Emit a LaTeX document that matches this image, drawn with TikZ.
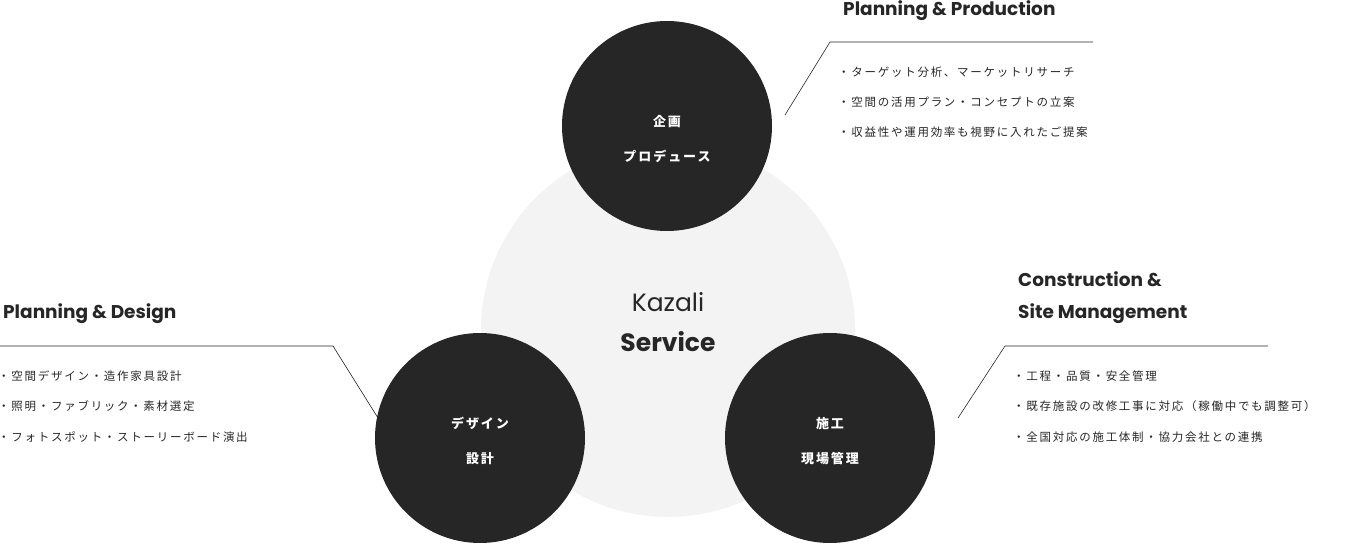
\documentclass[tikz,border=0pt]{standalone}
\usepackage{fontspec}
\setmainfont{Poppins}
\newfontfamily\jp[LetterSpace=15]{Noto Sans CJK JP}
\definecolor{bgc}{HTML}{F2F3F2}
\begin{document}
\begin{tikzpicture}[x=1pt,y=-1pt,
  big/.style={circle,fill=black!85,minimum size=210pt,inner sep=0pt},
  ttl/.style={anchor=base west,font=\fontsize{18.5}{20}\selectfont\bfseries,text=black!85,inner sep=0pt},
  itm/.style={anchor=base west,font=\jp\fontsize{11.5}{14}\selectfont,text=black!85,inner sep=0pt},
  lbl/.style={text=white,font=\jp\fontsize{13}{35}\selectfont\bfseries,align=center},
  ln/.style={draw=black!85,line width=0.6pt}]
\useasboundingbox (0,0) rectangle (1361,559);
\node[circle,fill=bgc,minimum size=374pt,inner sep=0pt] (bg) at (668,330) {};
\node[big] (top) at (667,126) {};
\node[big] (left) at (480,438) {};
\node[big] (right) at (830,438) {};
\node[lbl] at ([yshift=-13pt]top.center) {企画\\プロデュース};
\node[lbl] at ([yshift=-3pt]left.center) {デザイン\\設計};
\node[lbl] at ([yshift=-3pt]right.center) {施工\\現場管理};
\node[text=black!85,font=\fontsize{25}{40}\selectfont\bfseries,align=center] (logo) at (668,322) {{\mdseries Kazali}\\Service};
\coordinate (t1) at (785,115); \coordinate (t2) at (830,42); \coordinate (t3) at (1093,42);
\coordinate (l1) at (378,418); \coordinate (l2) at (333,346); \coordinate (l3) at (0,346);
\coordinate (r1) at (958,418); \coordinate (r2) at (1005,346); \coordinate (r3) at (1268,346);
\draw[ln] (t1)--(t2)--(t3);
\draw[ln] (l1)--(l2)--(l3);
\draw[ln] (r1)--(r2)--(r3);
\node[ttl] at (843,16) {Planning \& Production};
\node[itm] at (838,77) {・ターゲット分析、マーケットリサーチ};
\node[itm] at (838,107) {・空間の活用プラン・コンセプトの立案};
\node[itm] at (838,137) {・収益性や運用効率も視野に入れたご提案};
\node[ttl] at (3,318) {Planning \& Design};
\node[itm] at (-2,380) {・空間デザイン・造作家具設計};
\node[itm] at (-2,410) {・照明・ファブリック・素材選定};
\node[itm] at (-2,441) {・フォトスポット・ストーリーボード演出};
\node[ttl] at (1018,286) {Construction \&};
\node[ttl] at (1018,318) {Site Management};
\node[itm] at (1013,380) {・工程・品質・安全管理};
\node[itm] at (1013,410) {・既存施設の改修工事に対応（稼働中でも調整可）};
\node[itm] at (1013,441) {・全国対応の施工体制・協力会社との連携};
\end{tikzpicture}
\end{document}
